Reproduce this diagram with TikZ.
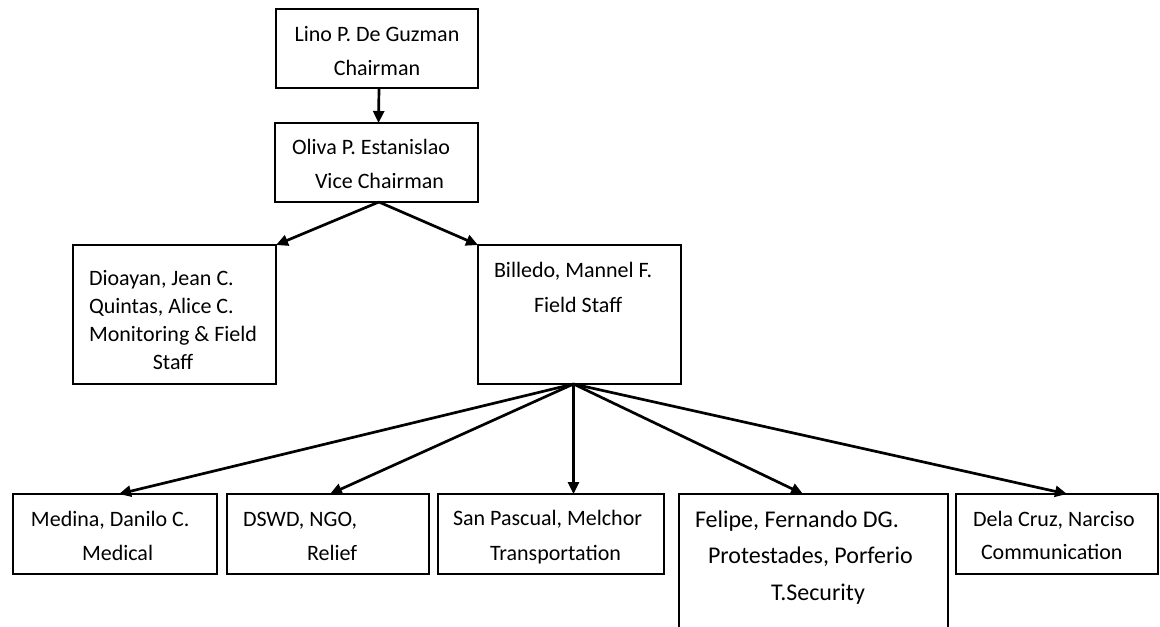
\documentclass[tikz,border=0pt]{standalone}
\usepackage{fontspec}
\setmainfont{Carlito}
\usetikzlibrary{arrows.meta}
\begin{document}
\begin{tikzpicture}[x=0.5pt,y=-0.5pt,
  box/.style={draw, line width=0.7pt, anchor=north west, inner sep=0pt, outer sep=0pt},
  txt/.style={inner sep=0pt, outer sep=0pt, anchor=base west},
  arr/.style={line width=1.35pt, -{Triangle[length=6pt,width=5.5pt]}}
]
\useasboundingbox (0,0) rectangle (1160,626);
\fill[white] (0,0) rectangle (1160,626);
% boxes
\node[box, minimum width=101pt, minimum height=39.5pt] (lino) at (276,9) {};
\node[box, minimum width=101.5pt, minimum height=39.5pt] (oliva) at (275,123) {};
\node[box, minimum width=101.5pt, minimum height=69.5pt] (dioayan) at (73,245) {};
\node[box, minimum width=101.5pt, minimum height=69.5pt] (billedo) at (478,245) {};
\node[box, minimum width=102pt, minimum height=40pt] (medina) at (13,494) {};
\node[box, minimum width=101pt, minimum height=40pt] (dswd) at (227,494) {};
\node[box, minimum width=113pt, minimum height=40pt] (sanp) at (438,494) {};
\node[box, minimum width=134.5pt, minimum height=73pt] (felipe) at (679,494) {};
\node[box, minimum width=101pt, minimum height=40pt] (dela) at (956,494) {};
% texts
\node[txt, anchor=base, font=\fontsize{11}{17.15}\selectfont] (linot) at (377,41.7)
  {\begin{tabular}[t]{@{}c@{}}Lino P. De Guzman\\Chairman\end{tabular}};
\node[txt, font=\fontsize{11}{17}\selectfont] (olivat) at (292,155)
  {\begin{tabular}[t]{@{}l@{}}Oliva P. Estanislao\\\hspace*{11.5pt}Vice Chairman\end{tabular}};
\node[txt, font=\fontsize{11}{14.15}\selectfont] (dioayant) at (89,285)
  {\begin{tabular}[t]{@{}l@{}}Dioayan, Jean C.\\Quintas, Alice C.\\Monitoring \& Field\\\multicolumn{1}{@{}c@{}}{Staff}\end{tabular}};
\node[txt, font=\fontsize{11}{17.5}\selectfont] (billedot) at (494,277)
  {\begin{tabular}[t]{@{}l@{}}Billedo, Mannel F.\\\hspace*{20pt}Field Staff\end{tabular}};
\node[txt, font=\fontsize{11}{17}\selectfont] (medinat) at (31,526)
  {\begin{tabular}[t]{@{}l@{}}Medina, Danilo C.\\\hspace*{25.5pt}Medical\end{tabular}};
\node[txt, font=\fontsize{11}{17}\selectfont] (dswdt) at (243,526)
  {\begin{tabular}[t]{@{}l@{}}DSWD, NGO,\\\hspace*{32pt}Relief\end{tabular}};
\node[txt, font=\fontsize{11}{17.5}\selectfont] (sanpt) at (453,525)
  {\begin{tabular}[t]{@{}l@{}}San Pascual, Melchor\\\hspace*{18.5pt}Transportation\end{tabular}};
\node[txt, font=\fontsize{12}{18.25}\selectfont] (felipet) at (695,527)
  {\begin{tabular}[t]{@{}l@{}}Felipe, Fernando DG.\\\hspace*{6.5pt}Protestades, Porferio\\\hspace*{38pt}T.Security\end{tabular}};
\node[txt, font=\fontsize{11}{16.5}\selectfont] (delat) at (973,526)
  {\begin{tabular}[t]{@{}l@{}}Dela Cruz, Narciso\\\hspace*{4pt}Communication\end{tabular}};
% connectors
\coordinate (ovs) at ([xshift=1.2pt]oliva.south);
\coordinate (fan) at ([xshift=-3pt]billedo.south);
\draw[arr] ([xshift=1pt]lino.south) -- ([xshift=1pt]oliva.north);
\draw[arr] (ovs) -- (dioayan.north east);
\draw[arr] (ovs) -- (billedo.north west);
\draw[arr] (fan) -- ([xshift=2pt]medina.north);
\draw[arr] (fan) -- ([xshift=1pt]dswd.north);
\draw[arr] (fan) -- (fan |- sanp.north);
\draw[arr] (fan) -- ([xshift=-5.25pt]felipe.north);
\draw[arr] (fan) -- ([xshift=5pt]dela.north);
\end{tikzpicture}
\end{document}
